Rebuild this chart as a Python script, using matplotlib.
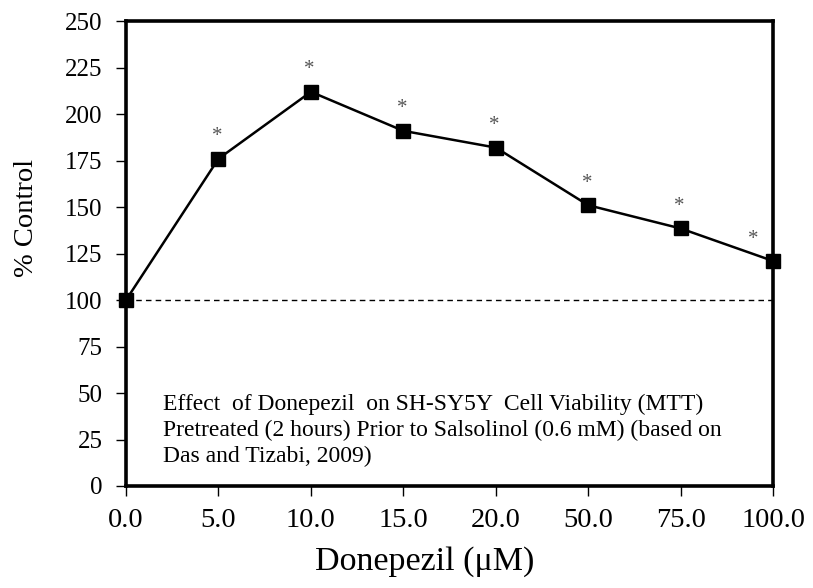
import matplotlib.pyplot as plt
import numpy as np

plt.rcParams["font.family"] = ["Liberation Serif", "DejaVu Serif"]

# Donepezil dose (uM) shown as evenly spaced categories
dose_labels = ["0.0", "5.0", "10.0", "15.0", "20.0", "50.0", "75.0", "100.0"]
pct_control = [100, 176, 212, 191, 182, 151, 138.5, 121]
significant = [False, True, True, True, True, True, True, True]

y_ticks = [0, 25, 50, 75, 100, 125, 150, 175, 200, 225, 250]

note = ("Effect  of Donepezil  on SH-SY5Y  Cell Viability (MTT)\n"
        "Pretreated (2 hours) Prior to Salsolinol (0.6 mM) (based on\n"
        "Das and Tizabi, 2009)")

fig = plt.figure(figsize=(8.13, 5.88), dpi=100)
ax = fig.add_axes([0.155, 0.1735, 0.796, 0.7905])

x = np.arange(len(dose_labels))
ax.axhline(100, color="black", linestyle=(0, (4, 3)), linewidth=1.0, zorder=1)
ax.plot(x, pct_control, color="black", linewidth=1.8, marker="s",
        markersize=10, clip_on=False, zorder=3)

# significance markers above each point
for xi, yi, sig in zip(x, pct_control, significant):
    if not sig:
        continue
    dx = -14 if xi == x[-1] else -1
    ax.annotate("*", (xi, yi), xytext=(dx, 9), textcoords="offset points",
                ha="center", va="bottom", fontsize=15, color="#555555")

ax.set_xlim(0, len(dose_labels) - 1)
ax.set_ylim(0, 250)
ax.set_xticks(x)
ax.set_xticklabels(dose_labels, fontsize=20.5)
ax.set_yticks(y_ticks)
ax.set_yticklabels([str(v) for v in y_ticks], fontsize=18)
ax.tick_params(axis="both", direction="out", length=7, width=1.0, colors="black")
ax.tick_params(axis="x", pad=9)
ax.tick_params(axis="y", pad=10)

for s in ax.spines.values():
    s.set_linewidth(2.6)
    s.set_color("black")

ax.set_xlabel("Donepezil (\u03bcM)", fontsize=24.5)
ax.xaxis.set_label_coords(0.461, -0.13)
ax.set_ylabel("% Control", fontsize=20.5)
ax.yaxis.set_label_coords(-0.134, 0.576)

ax.text(0.4, 30, note, fontsize=17, ha="left", va="center", linespacing=1.3)

fig.savefig("out.png", dpi=100)
